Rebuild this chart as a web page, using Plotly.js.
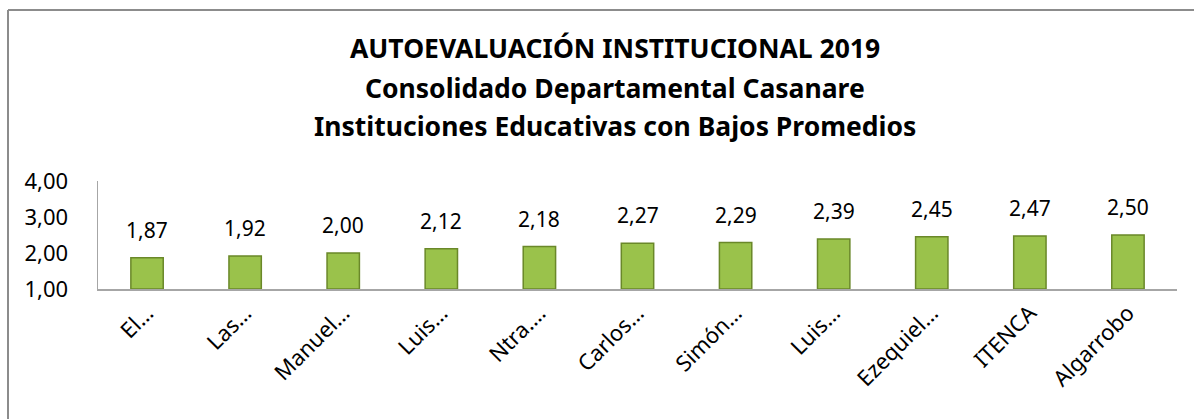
<!DOCTYPE html>
<html>
<head>
<meta charset="utf-8">
<script src="https://cdn.plot.ly/plotly-3.0.1.min.js"></script>
<style>
html,body{margin:0;padding:0;background:#fff;}
#chart{width:1194px;height:419px;}
</style>
</head>
<body>
<div id="chart"></div>
<script>
const categories = ["El…", "Las…", "Manuel…", "Luis…", "Ntra.…", "Carlos…", "Simón…", "Luis…", "Ezequiel…", "ITENCA", "Algarrobo"];
const values = [1.87, 1.92, 2.00, 2.12, 2.18, 2.27, 2.29, 2.39, 2.45, 2.47, 2.50];
const yTicks = [1, 2, 3, 4];
const titleLines = ["AUTOEVALUACIÓN INSTITUCIONAL 2019", "Consolidado Departamental Casanare", "Instituciones Educativas con Bajos Promedios"];

const idx = categories.map((c, i) => i);
const FONT = "Noto Sans, Open Sans, sans-serif";
const AXMIN = 1;

const trace = {
  type: "bar",
  x: idx,
  y: values.map(v => v - AXMIN),
  base: AXMIN,
  marker: {color: "#9AC24B", line: {color: "#6A8829", width: 1.5}},
  hoverinfo: "skip"
};

const plotTop = 181, plotBottom = 289, plotH = plotBottom - plotTop;
const titleY = [48, 88, 126];

const annotations = values.map((v, i) => ({
  x: i, y: v, xref: "x", yref: "y",
  text: v.toFixed(2).replace(".", ","),
  showarrow: false, yanchor: "bottom", yshift: 12,
  font: {family: FONT, size: 21, color: "#000"}
}));
titleLines.forEach((t, k) => annotations.push({
  x: 0.5, xref: "paper", y: (plotBottom - titleY[k]) / plotH, yref: "paper",
  text: "<b>" + t + "</b>", showarrow: false, xanchor: "center", yanchor: "middle",
  xshift: -23,
  font: {family: FONT, size: 26.5, color: "#000"}
}));

const layout = {
  width: 1194, height: 419,
  margin: {l: 98, r: 17, t: 181, b: 130},
  paper_bgcolor: "#fff", plot_bgcolor: "#fff",
  separators: ",.",
  showlegend: false,
  bargap: 0.67,
  xaxis: {
    range: [-0.5, categories.length - 0.5],
    tickvals: idx, ticktext: categories, tickangle: -45,
    showgrid: false, zeroline: false,
    showline: true, linecolor: "#A6A6A6", linewidth: 1.5,
    ticks: "", ticklabelstandoff: 1,
    tickfont: {family: FONT, size: 22, color: "#000"}
  },
  yaxis: {
    range: [AXMIN, 4], tickvals: yTicks, tickformat: ".2f",
    showgrid: false, zeroline: false,
    showline: true, linecolor: "#A6A6A6", linewidth: 1.5,
    ticks: "", ticklabelstandoff: 24,
    tickfont: {family: FONT, size: 22, color: "#000"}
  },
  annotations: annotations,
  shapes: [
    {type: "line", xref: "paper", yref: "paper", x0: -90/1079, x1: 1 + 17/1079, y0: (plotBottom - 10) / plotH, y1: (plotBottom - 10) / plotH, line: {color: "#8C8C8C", width: 2}},
    {type: "line", xref: "paper", yref: "paper", x0: -90/1079, x1: -90/1079, y0: (plotBottom - 10) / plotH, y1: (plotBottom - 419) / plotH, line: {color: "#8C8C8C", width: 2}}
  ]
};

Plotly.newPlot("chart", [trace], layout, {displayModeBar: false, staticPlot: true});
</script>
</body>
</html>
